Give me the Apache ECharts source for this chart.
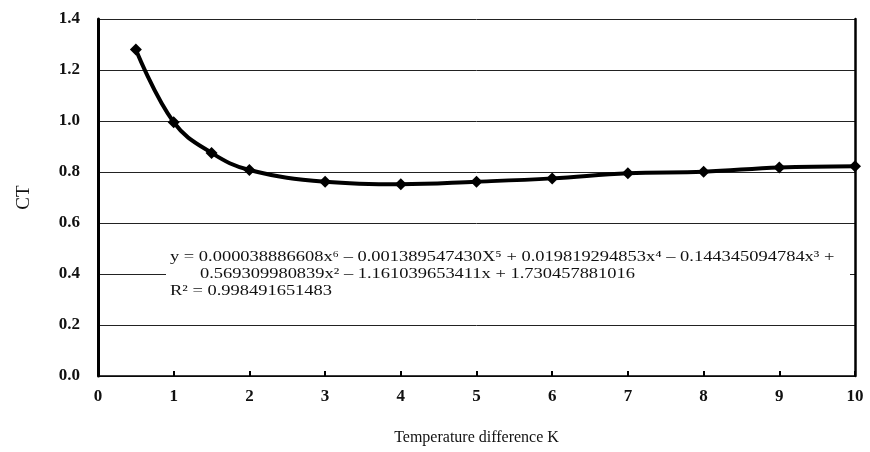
<!DOCTYPE html>
<html>
<head>
<meta charset="utf-8">
<script src="https://cdn.jsdelivr.net/npm/echarts@6/dist/echarts.min.js"></script>
<style>
html,body{margin:0;padding:0;background:#fff;}
#chart{width:870px;height:452px;}
</style>
</head>
<body>
<div id="chart"></div>
<script>
const xValues = [0.5, 1, 1.5, 2, 3, 4, 5, 6, 7, 8, 9, 10];
const ctValues = [1.28, 0.995, 0.875, 0.808, 0.762, 0.752, 0.762, 0.775, 0.795, 0.801, 0.818, 0.823];
const xTicks = [0, 1, 2, 3, 4, 5, 6, 7, 8, 9, 10];
const yTicks = [0.0, 0.2, 0.4, 0.6, 0.8, 1.0, 1.2, 1.4];
const eqLines = [
  'y = 0.000038886608x\u2076 \u2013 0.001389547430X\u2075 + 0.019819294853x\u2074 \u2013 0.144345094784x\u00B3 +',
  '0.569309980839x\u00B2 \u2013 1.161039653411x + 1.730457881016',
  'R\u00B2 = 0.998491651483'
];
const xTitle = 'Temperature difference K';
const yTitle = 'CT';

const serif = '"Liberation Serif", "DejaVu Serif", serif';
const chart = echarts.init(document.getElementById('chart'));
const seriesData = xValues.map((x, i) => [x, ctValues[i]]);

function eqText(str, x, y) {
  return { type: 'text', x: x, y: y, scaleX: 1.23, z: 101,
    style: { text: str, font: '15px ' + serif, fill: '#111', verticalAlign: 'middle', align: 'left' } };
}

chart.setOption({
  backgroundColor: '#fff',
  animation: false,
  grid: { left: 98, right: 15, top: 19, bottom: 76 },
  xAxis: {
    type: 'value', min: xTicks[0], max: xTicks[xTicks.length - 1], interval: 1,
    name: xTitle, nameLocation: 'middle', nameGap: 54,
    nameTextStyle: { fontFamily: serif, fontSize: 16, color: '#111' },
    axisLine: { show: true, onZero: false, lineStyle: { color: '#000', width: 1.5 } },
    axisTick: { show: true, inside: true, length: 5, lineStyle: { color: '#000', width: 2 } },
    axisLabel: { fontFamily: serif, fontSize: 17, fontWeight: 'bold', color: '#111', margin: 12 },
    splitLine: { show: false }
  },
  yAxis: [{
    type: 'value', min: yTicks[0], max: yTicks[yTicks.length - 1], interval: 0.2,
    name: yTitle, nameLocation: 'middle', nameGap: 64, nameRotate: 90,
    nameTextStyle: { fontFamily: serif, fontSize: 19, color: '#111' },
    axisLine: { show: true, lineStyle: { color: '#000', width: 3 } },
    axisTick: { show: false },
    axisLabel: { fontFamily: serif, fontSize: 17, fontWeight: 'bold', color: '#111', margin: 18,
      formatter: v => v.toFixed(1) },
    splitLine: { show: true, lineStyle: { color: '#222', width: 1 } }
  }, {
    type: 'value', min: yTicks[0], max: yTicks[yTicks.length - 1], interval: 0.2, position: 'right',
    axisLine: { show: true, lineStyle: { color: '#000', width: 2.5 } },
    axisTick: { show: false }, axisLabel: { show: false }, splitLine: { show: false }
  }],
  series: [{
    type: 'line', data: seriesData, smooth: 0.4,
    symbol: 'diamond', symbolSize: 12,
    lineStyle: { color: '#000', width: 4 },
    itemStyle: { color: '#000' }
  }],
  graphic: [
    { type: 'rect', z: 100, shape: { x: 166, y: 245, width: 684, height: 58 }, style: { fill: '#fff' } },
    eqText(eqLines[0], 170, 257),
    eqText(eqLines[1], 200, 274),
    eqText(eqLines[2], 170, 291)
  ]
});
</script>
</body>
</html>
